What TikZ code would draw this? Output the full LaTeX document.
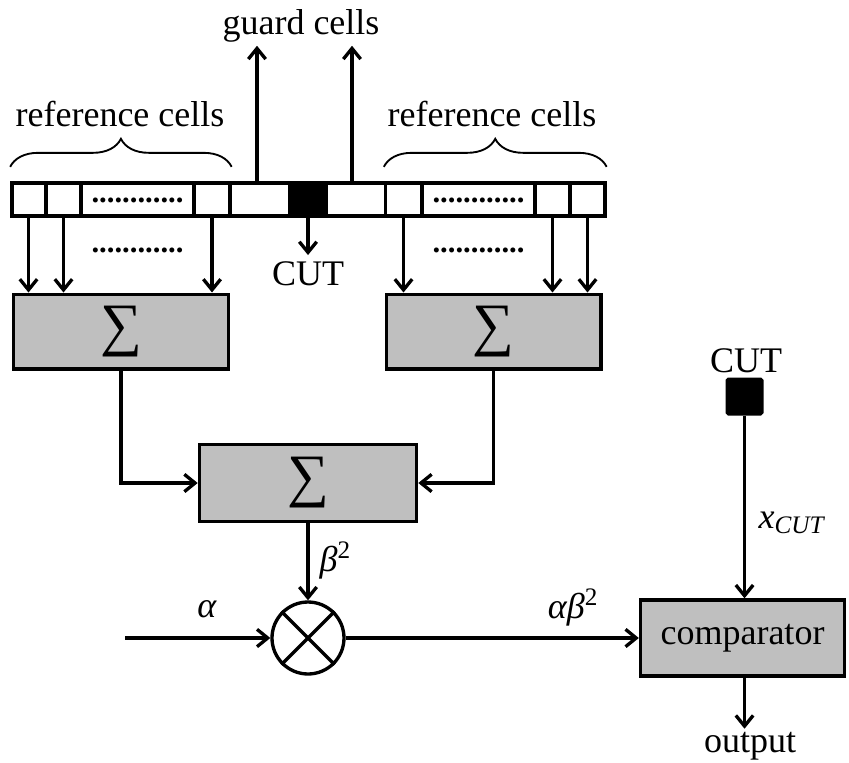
\documentclass[tikz,border=0pt]{standalone}
\usepackage{fontspec}
\setmainfont{Liberation Serif}
\usetikzlibrary{arrows.meta,positioning,decorations.pathreplacing}
\definecolor{boxgray}{RGB}{191,191,191}

\begin{document}
\begin{tikzpicture}[x=0.75pt, y=-0.75pt, >={Straight Barb[length=8pt,width=13pt]}, line width=2.5pt,
  every node/.style={font=\fontsize{27}{32}\selectfont},
  cell/.style={draw, fill=white, minimum height=24.5pt, inner sep=0pt},
  sumbox/.style={draw, fill=boxgray, minimum width=161pt, minimum height=56pt, font=\fontsize{44}{44}\selectfont},
  dots/.style={font=\bfseries\fontsize{23}{26}\selectfont, inner sep=0pt}]
  \useasboundingbox (0,0) rectangle (849,763);

  % row of cells
  \node[cell, minimum width=25pt] (c1) at (28.5,199.5) {};
  \node[cell, minimum width=26.25pt] (c2) at (63.5,199.5) {};
  \node[cell, minimum width=84.75pt] (cdl) at (137.5,199.5) {};
  \node[cell, minimum width=27pt] (c3) at (212,199.5) {};
  \node[cell, minimum width=45pt] (g1) at (260,199.5) {};
  \node[cell, minimum width=27pt, fill=black] (cut) at (308,199.5) {};
  \node[cell, minimum width=45pt] (g2) at (356,199.5) {};
  \node[cell, minimum width=27pt] (c4) at (403.5,199.5) {};
  \node[cell, minimum width=84.75pt] (cdr) at (478.5,199.5) {};
  \node[cell, minimum width=26.25pt] (c5) at (552.5,199.5) {};
  \node[cell, minimum width=26.25pt] (c6) at (587.5,199.5) {};
  \node[dots] at ([yshift=-1pt]cdl) {............};
  \node[dots] at ([yshift=-1pt]cdr) {............};

  % labels above the row
  \node[anchor=base, inner sep=1pt] (guard) at (301,35) {guard cells};
  \node[anchor=base] (refl) at (120,127) {reference cells};
  \node[anchor=base] (refr) at (492,127) {reference cells};
  \draw[decorate, decoration={brace, amplitude=21pt}, line width=1.4pt]
    ([yshift=11pt]c1.north west) -- ([yshift=11pt]c3.north east);
  \draw[decorate, decoration={brace, amplitude=21pt}, line width=1.4pt]
    ([yshift=11pt]c4.north west) -- ([yshift=11pt]c6.north east);
  \draw[->] ([xshift=-2.25pt]g1.north) -- ([xshift=-2.25pt]g1.north |- guard.south);
  \draw[->] ([xshift=-3pt]g2.north) -- ([xshift=-3pt]g2.north |- guard.south);

  % cell under test
  \node[anchor=base] (cutlbl) at (308,285) {CUT};
  \draw[->] (cut.south) -- (cutlbl.north);

  % first sums
  \node[sumbox] (lsum) at (121,331.5) {∑};
  \node[sumbox] (rsum) at (493.5,331.5) {∑};
  \node[dots] at (137.5,250) {............};
  \node[dots] at (478.5,250) {............};
  \draw[->] (c1.south) -- (c1.south |- lsum.north);
  \draw[->] (c2.south) -- (c2.south |- lsum.north);
  \draw[->] (c3.south) -- (c3.south |- lsum.north);
  \draw[->] (c4.south) -- (c4.south |- rsum.north);
  \draw[->] (c5.south) -- (c5.south |- rsum.north);
  \draw[->] (c6.south) -- (c6.south |- rsum.north);

  \node[sumbox, minimum width=163pt, minimum height=58pt] (msum) at (308,483) {∑};
  \draw[->] (lsum.south) |- (msum.west);
  \draw[->] (rsum.south) |- (msum.east);

  % multiplier
  \node[draw, circle, minimum size=54pt, inner sep=0pt] (mul) at (308,638) {};
  \draw (mul.north west) -- (mul.south east);
  \draw (mul.north east) -- (mul.south west);
  \draw[->] (msum.south) -- (mul.north);
  \node[anchor=base west, inner sep=0pt] (beta) at (318,571) {\textit{β}\textsuperscript{2}};
  \coordinate (ain) at (125,638);
  \draw[->] (ain) -- (mul.west);
  \node[anchor=base] (alpha) at (207,617) {\textit{α}};

  % comparator
  \node[draw, fill=boxgray, minimum width=153pt, minimum height=57pt] (comp) at (742.5,638) {comparator};
  \draw[->] (mul.east) -- (comp.west);
  \node[anchor=base] (ab) at (573,618) {\textit{αβ}\textsuperscript{2}};
  \node[draw, fill=black, rounded corners=1pt, minimum size=26pt, inner sep=0pt] (cutsq) at (744.5,396.5) {};
  \node[anchor=base] (cutr) at (746,372) {CUT};
  \draw[->] (cutsq.south) -- (cutsq.south |- comp.north);
  \node[anchor=base west, inner sep=0pt] (xcut) at (757,528) {\textit{x}\textsubscript{\textit{CUT}}};
  \node[anchor=base, inner sep=1pt] (out) at (750,752) {output};
  \draw[->] (cutsq.south |- comp.south) -- (cutsq.south |- out.north);
\end{tikzpicture}
\end{document}
